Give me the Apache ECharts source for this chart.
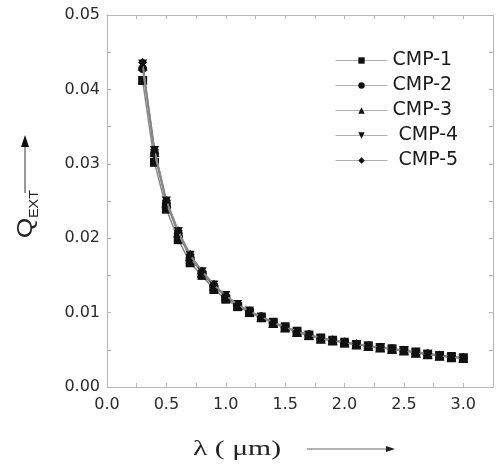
<!DOCTYPE html>
<html>
<head>
<meta charset="utf-8">
<script src="https://cdn.jsdelivr.net/npm/echarts@6/dist/echarts.min.js"></script>
<style>html,body{margin:0;padding:0;background:#fff;}#c{width:496px;height:466px;}</style>
</head>
<body>
<div id="c"></div>
<script>
// wavelength (µm)
const lambda = [0.3,0.4,0.5,0.6,0.7,0.8,0.9,1.0,1.1,1.2,1.3,1.4,1.5,1.6,1.7,1.8,1.9,2.0,2.1,2.2,2.3,2.4,2.5,2.6,2.7,2.8,2.9,3.0];
const seriesNames = ['CMP-1','CMP-2','CMP-3','CMP-4','CMP-5'];
const cmp1 = [0.0412,0.0302,0.0239,0.0198,0.0167,0.0150,0.0131,0.0118,0.0108,0.0100,0.0093,0.0086,0.0080,0.0074,0.0069,0.0065,0.0062,0.0059,0.0057,0.0055,0.0053,0.0051,0.0049,0.0046,0.0044,0.0042,0.0040,0.0039];
const cmp2 = [0.0428,0.0314,0.0247,0.0206,0.0174,0.0153,0.0135,0.0121,0.0110,0.0101,0.0094,0.0086,0.0080,0.0074,0.0070,0.0065,0.0063,0.0060,0.0057,0.0055,0.0053,0.0051,0.0049,0.0046,0.0044,0.0042,0.0040,0.0039];
const cmp3 = [0.0432,0.0316,0.0248,0.0208,0.0176,0.0154,0.0136,0.0122,0.0110,0.0101,0.0094,0.0086,0.0080,0.0074,0.0070,0.0065,0.0063,0.0060,0.0057,0.0055,0.0053,0.0051,0.0049,0.0046,0.0044,0.0042,0.0040,0.0039];
const cmp4 = [0.0434,0.0318,0.0250,0.0209,0.0177,0.0155,0.0137,0.0123,0.0111,0.0102,0.0094,0.0087,0.0081,0.0075,0.0070,0.0066,0.0063,0.0060,0.0057,0.0055,0.0053,0.0051,0.0049,0.0047,0.0044,0.0042,0.0041,0.0039];
const cmp5 = [0.0436,0.0319,0.0251,0.0210,0.0178,0.0156,0.0138,0.0123,0.0111,0.0102,0.0095,0.0087,0.0081,0.0075,0.0071,0.0066,0.0063,0.0060,0.0058,0.0055,0.0053,0.0051,0.0049,0.0047,0.0045,0.0043,0.0041,0.0040];
const xTickLabels = ['0.0','0.5','1.0','1.5','2.0','2.5','3.0'];
const yTickLabels = ['0.00','0.01','0.02','0.03','0.04','0.05'];

const allValues = [cmp1, cmp2, cmp3, cmp4, cmp5];
const symbols = ['rect','circle','triangle','path://M0,0L10,0L5,9Z','diamond'];

const chart = echarts.init(document.getElementById('c'), null, {renderer:'canvas'});
const axisCol = '#b8b8b8';
const labelFont = {fontFamily:'DejaVu Sans', fontSize:16, color:'#2a2a2a'};

function xFmt(v){ const s = (Math.round(v*10)/10).toFixed(1); return (Math.abs(v*2-Math.round(v*2))<1e-6 && xTickLabels.indexOf(s)>=0) ? s : ''; }
function yFmt(v){ const s = v.toFixed(2); return (Math.abs(v*100-Math.round(v*100))<1e-6 && yTickLabels.indexOf(s)>=0) ? s : ''; }

const baseX = {type:'value', min:0, max:3.25, interval:0.25,
  axisLine:{show:true, onZero:false, lineStyle:{color:axisCol, width:1}},
  axisTick:{show:true, inside:true, length:4, lineStyle:{color:axisCol}},
  splitLine:{show:false}};
const baseY = {type:'value', min:0, max:0.05, interval:0.005,
  axisLine:{show:true, onZero:false, lineStyle:{color:axisCol, width:1}},
  axisTick:{show:true, inside:true, length:4, lineStyle:{color:axisCol}},
  splitLine:{show:false}};

chart.setOption({
  animation:false,
  backgroundColor:'#fff',
  grid:{left:107, right:3, top:15, bottom:79, containLabel:false},
  xAxis:[
    Object.assign({}, baseX, {position:'bottom', axisLabel:Object.assign({formatter:xFmt, margin:10, showMaxLabel:false}, labelFont)}),
    Object.assign({}, baseX, {position:'top', axisLabel:{show:false}})
  ],
  yAxis:[
    Object.assign({}, baseY, {position:'left', axisLabel:Object.assign({formatter:yFmt, margin:7}, labelFont)}),
    Object.assign({}, baseY, {position:'right', axisLabel:{show:false}})
  ],
  legend:{
    orient:'vertical', left:330, top:46,
    itemWidth:52, itemHeight:8, itemGap:6,
    lineStyle:{color:'#b0b0b0', width:1},
    formatter:function(n){ return (n==='CMP-4'||n==='CMP-5') ? ' '+n : n; },
    textStyle:{fontFamily:'DejaVu Sans', fontSize:19, color:'#1a1a1a', lineHeight:18},
    data:seriesNames
  },
  series: seriesNames.map(function(name, i){
    return {
      name:name, type:'line',
      data: lambda.map(function(x, j){ return [x, allValues[i][j]]; }),
      symbol: symbols[i], symbolSize: i===2 ? 10 : 9,
      showAllSymbol:true,
      lineStyle:{color:'#888', width:1.5},
      itemStyle:{color:'#111'},
      z: 2 + i
    };
  }),
  graphic:[
    {type:'line', shape:{x1:25, y1:193, x2:25, y2:145}, style:{stroke:'#777', lineWidth:1.5}},
    {type:'polygon', shape:{points:[[25,135],[21,147],[29,147]]}, style:{fill:'#111'}},
    {type:'text', x:26, y:228, rotation:Math.PI/2, scaleX:1.2,
      style:{text:'Q', font:'22px "Liberation Sans"', fill:'#222', textAlign:'center', textVerticalAlign:'middle'}},
    {type:'text', x:35, y:204, rotation:Math.PI/2, scaleX:1.2,
      style:{text:'EXT', font:'12px "Liberation Sans"', fill:'#222', textAlign:'center', textVerticalAlign:'middle'}},
    {type:'text', x:193, y:449, scaleX:1.35,
      style:{text:'λ ( μm)', font:'22px "Liberation Serif"', fill:'#222', textAlign:'left', textVerticalAlign:'middle'}},
    {type:'line', shape:{x1:307, y1:449, x2:388, y2:449}, style:{stroke:'#666', lineWidth:1.2}},
    {type:'polygon', shape:{points:[[395,449],[386,446],[386,452]]}, style:{fill:'#222'}}
  ]
});
</script>
</body>
</html>
